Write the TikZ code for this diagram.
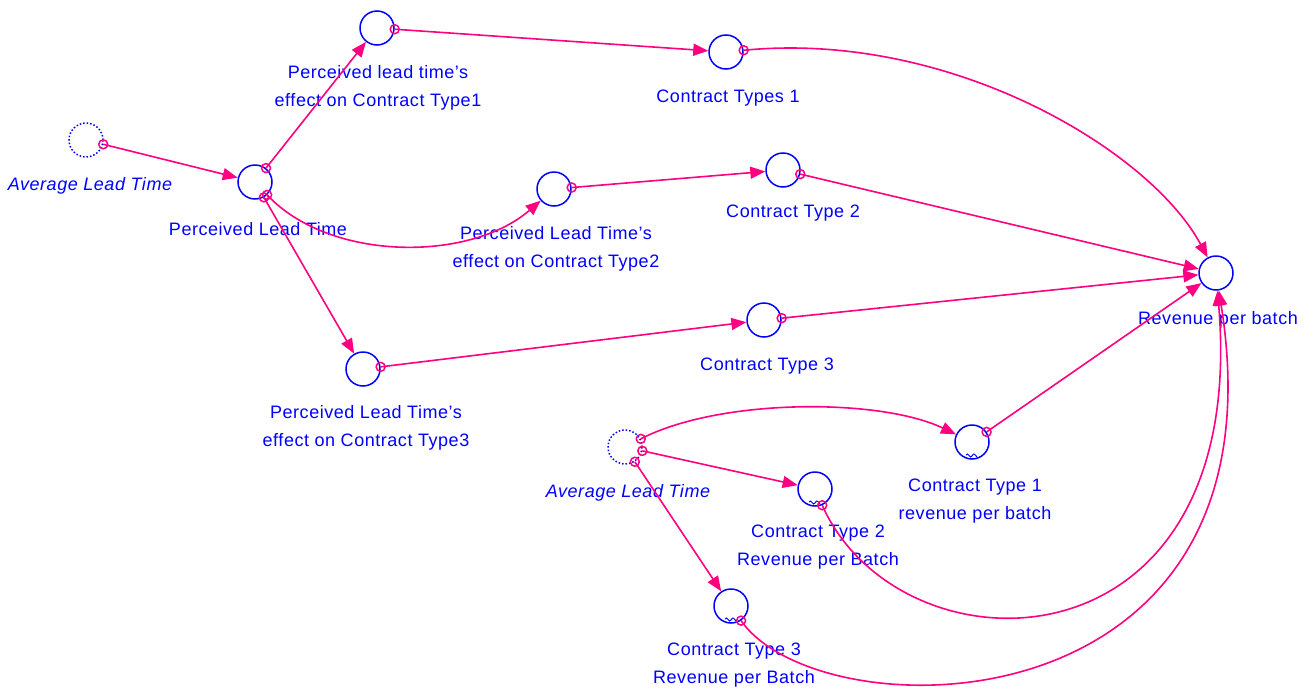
\documentclass[tikz,border=0pt]{standalone}
\usepackage{fontspec}
\setmainfont[LetterSpace=3]{Liberation Sans}
\usetikzlibrary{arrows.meta}
\definecolor{sdblue}{RGB}{0,0,255}
\definecolor{sdpink}{RGB}{255,0,128}
\tikzset{
  var/.style={circle,draw=sdblue,line width=1.5pt,minimum size=34pt,inner sep=0pt},
  ghost/.style={var,dotted},
  lbl/.style={text=sdblue,font=\fontsize{18}{28}\selectfont,align=center,inner sep=0pt},
  ilbl/.style={lbl,font=\fontsize{18}{28}\selectfont\itshape},
  link/.style={draw=sdpink,line width=1.6pt,-{Triangle[length=15pt,width=12pt]}},
  mk/.style={circle,draw=sdpink,line width=1.5pt,minimum size=9pt,inner sep=0pt,pos=0},
  tilde/.style={draw=sdblue,line width=1pt}
}
\begin{document}
\begin{tikzpicture}[x=1pt,y=-1pt]
\useasboundingbox (0,0) rectangle (1315,691);
% variables
\node[ghost] (alt1) at (86,140) {};
\node[var] (plt) at (255,182) {};
\node[var] (e1) at (377,28) {};
\node[var] (ct1) at (726,52) {};
\node[var] (e2) at (554,189) {};
\node[var] (ct2) at (783,170) {};
\node[var] (e3) at (363,369) {};
\node[var] (ct3) at (764,320) {};
\node[var] (rev) at (1216,273) {};
\node[ghost] (alt2) at (625,447) {};
\node[var] (r1) at (972,442) {};
\node[var] (r2) at (815,489) {};
\node[var] (r3) at (731,606) {};
% graphical-function tildes
\foreach \n in {r1,r2,r3}{
  \draw[tilde] ([xshift=-6pt,yshift=-13pt]\n.center) .. controls +(2,-4) and +(-2,4) .. ([xshift=0pt,yshift=-14pt]\n.center)
     .. controls +(2,-4) and +(-2,-2) .. ([xshift=5pt,yshift=-15pt]\n.center);
}
% labels
\node[ilbl] (l-alt1) at (90,186) {Average Lead Time};
\node[lbl] (l-plt) at (258,229) {Perceived Lead Time};
\node[lbl,anchor=north] (l-e1) at (378,65) {Perceived lead time's\\effect on Contract Type1};
\node[lbl] (l-ct1) at (728,98) {Contract Types 1};
\node[lbl,anchor=north] (l-e2) at (556,226) {Perceived Lead Time's\\effect on Contract Type2};
\node[lbl] (l-ct2) at (793,213) {Contract Type 2};
\node[lbl,anchor=north] (l-e3) at (366,405) {Perceived Lead Time's\\effect on Contract Type3};
\node[lbl] (l-ct3) at (767,366) {Contract Type 3};
\node[lbl] (l-rev) at (1218,320) {Revenue per batch};
\node[ilbl] (l-alt2) at (628,493) {Average Lead Time};
\node[lbl,anchor=north] (l-r1) at (975,479) {Contract Type 1\\revenue per batch};
\node[lbl,anchor=north] (l-r2) at (818,525) {Contract Type 2\\Revenue per Batch};
\node[lbl,anchor=north] (l-r3) at (734,643) {Contract Type 3\\Revenue per Batch};
% links
\draw[link] (alt1) -- node[mk]{} (plt);
\draw[link] (plt) -- node[mk]{} (e1);
\draw[link] (plt) .. controls (330,262) and (470,262) .. node[mk]{} (e2);
\draw[link] (plt) -- node[mk]{} (e3);
\draw[link] (e1) -- node[mk]{} (ct1);
\draw[link] (e2) -- node[mk]{} (ct2);
\draw[link] (e3) -- node[mk]{} (ct3);
\draw[link] (ct1) .. controls (950,30) and (1150,150) .. node[mk]{} (rev);
\draw[link] (ct2) -- node[mk]{} (rev);
\draw[link] (ct3) -- node[mk]{} (rev);
\draw[link] (r1) -- node[mk]{} (rev);
\draw[link] (alt2) .. controls (720,398) and (880,398) .. node[mk]{} (r1);
\draw[link] (alt2) -- node[mk]{} (r2);
\draw[link] (alt2) -- node[mk]{} (r3);
\draw[link] (r2) .. controls (900,680) and (1250,680) .. node[mk]{} (rev);
\draw[link] (r3) .. controls (820,735) and (1290,735) .. node[mk]{} (rev);
\end{tikzpicture}
\end{document}
